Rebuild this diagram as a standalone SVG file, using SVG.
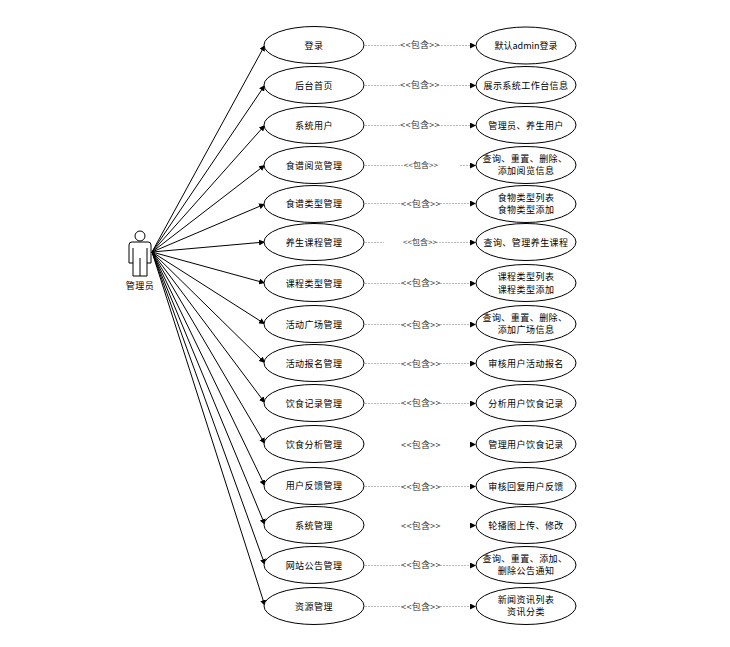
<svg xmlns="http://www.w3.org/2000/svg" width="730" height="647" viewBox="0 0 730 647">
<style>
text{font-family:"Noto Sans CJK SC","Liberation Sans",sans-serif;font-size:9px;fill:#000;text-anchor:middle;letter-spacing:.45px}
.lb{fill:#333;letter-spacing:.3px}
.sm{font-size:8px;letter-spacing:0}
ellipse{fill:#fff;stroke:#000;stroke-width:1}
.as line{stroke:#000;stroke-width:1;marker-end:url(#a)}
.inc line{stroke:#bbb;stroke-width:1;stroke-dasharray:2 1}
.inc line.h{marker-end:url(#b)}
</style>
<defs>
<marker id="a" markerUnits="userSpaceOnUse" markerWidth="6" markerHeight="6" refX="6" refY="3" orient="auto"><path d="M0 0L6 3L0 6z" fill="#000"/></marker>
<marker id="b" markerUnits="userSpaceOnUse" markerWidth="6" markerHeight="6" refX="6" refY="3" orient="auto"><path d="M0 0L6 3L0 6z" fill="#000" stroke="none"/></marker>
</defs>
<g id="connectors">
<g class="as">
<line x1="152" y1="252" x2="265" y2="45"/><line x1="152" y1="252" x2="265" y2="85"/><line x1="152" y1="252" x2="265" y2="125"/><line x1="152" y1="252" x2="265" y2="165"/><line x1="152" y1="252" x2="265" y2="204"/><line x1="152" y1="252" x2="265" y2="242"/><line x1="152" y1="252" x2="265" y2="283"/><line x1="152" y1="252" x2="265" y2="324"/><line x1="152" y1="252" x2="265" y2="363"/><line x1="152" y1="252" x2="265" y2="403"/><line x1="152" y1="252" x2="265" y2="444"/><line x1="152" y1="252" x2="265" y2="486"/><line x1="152" y1="252" x2="265" y2="525"/><line x1="152" y1="252" x2="265" y2="565"/><line x1="152" y1="252" x2="265" y2="606"/>
</g>
<g class="inc" transform="translate(0,.5)">
<line x1="365" y1="45" x2="402" y2="45"/><line class="h" x1="438" y1="45" x2="476" y2="45"/>
<line x1="365" y1="85" x2="402" y2="85"/><line class="h" x1="441" y1="85" x2="476" y2="85"/>
<line x1="365" y1="125" x2="402" y2="125"/><line class="h" x1="438" y1="125" x2="476" y2="125"/>
<line x1="365" y1="165" x2="405" y2="165"/><line class="h" x1="460" y1="165" x2="476" y2="165"/>
<line x1="365" y1="203" x2="402" y2="203"/><line class="h" x1="440" y1="203" x2="476" y2="203"/>
<line x1="365" y1="242" x2="384" y2="242"/><line class="h" x1="436" y1="242" x2="476" y2="242"/>
<line x1="365" y1="283" x2="402" y2="283"/><line class="h" x1="440" y1="283" x2="476" y2="283"/>
<line x1="365" y1="324" x2="402" y2="324"/><line class="h" x1="440" y1="324" x2="476" y2="324"/>
<line x1="365" y1="363" x2="402" y2="363"/><line class="h" x1="440" y1="363" x2="476" y2="363"/>
<line x1="365" y1="403" x2="402" y2="403"/><line class="h" x1="440" y1="403" x2="476" y2="403"/>
<line class="h" x1="470" y1="444" x2="476" y2="444"/>
<line x1="365" y1="486" x2="403" y2="486"/><line class="h" x1="440" y1="486" x2="476" y2="486"/>
<line class="h" x1="470" y1="525" x2="476" y2="525"/>
<line x1="365" y1="565" x2="402" y2="565"/><line class="h" x1="440" y1="565" x2="476" y2="565"/>
<line x1="365" y1="606" x2="402" y2="606"/><line class="h" x1="440" y1="606" x2="476" y2="606"/>
</g>
<g>
<text class="lb" x="420" y="48">&lt;&lt;包含&gt;&gt;</text>
<text class="lb" x="420" y="88">&lt;&lt;包含&gt;&gt;</text>
<text class="lb" x="420" y="128">&lt;&lt;包含&gt;&gt;</text>
<text class="lb sm" x="421" y="168">&lt;&lt;包含&gt;&gt;</text>
<text class="lb" x="421" y="207">&lt;&lt;包含&gt;&gt;</text>
<text class="lb sm" x="420" y="245">&lt;&lt;包含&gt;&gt;</text>
<text class="lb" x="421" y="286">&lt;&lt;包含&gt;&gt;</text>
<text class="lb" x="421" y="328">&lt;&lt;包含&gt;&gt;</text>
<text class="lb" x="421" y="367">&lt;&lt;包含&gt;&gt;</text>
<text class="lb" x="421" y="406">&lt;&lt;包含&gt;&gt;</text>
<text class="lb" x="421" y="448">&lt;&lt;包含&gt;&gt;</text>
<text class="lb" x="421" y="490">&lt;&lt;包含&gt;&gt;</text>
<text class="lb" x="421" y="529">&lt;&lt;包含&gt;&gt;</text>
<text class="lb" x="421" y="568">&lt;&lt;包含&gt;&gt;</text>
<text class="lb" x="421" y="610">&lt;&lt;包含&gt;&gt;</text>
</g>
</g>
<g id="actor">
<circle cx="140" cy="236" r="5" fill="#fff" stroke="#000"/>
<path d="M129 263V245Q129 242 132 242H148Q151 242 151 245V263H147V276H133V263ZM133 263V248M147 263V248M140 276V258" fill="#fff" stroke="#000"/>
<text x="140" y="289">管理员</text>
</g>
<g id="u1"><ellipse cx="314" cy="45" rx="50" ry="18.5"/><text x="314" y="48.500">登录</text></g>
<g id="u2"><ellipse cx="314" cy="85" rx="50" ry="18.5"/><text x="314" y="88.500">后台首页</text></g>
<g id="u3"><ellipse cx="314" cy="125" rx="50" ry="18.5"/><text x="314" y="128.500">系统用户</text></g>
<g id="u4"><ellipse cx="314" cy="165" rx="50" ry="18.5"/><text x="314" y="168.500">食谱阅览管理</text></g>
<g id="u5"><ellipse cx="314" cy="204" rx="50" ry="18.5"/><text x="314" y="207">食谱类型管理</text></g>
<g id="u6"><ellipse cx="314" cy="242" rx="50" ry="18.5"/><text x="314" y="245.500">养生课程管理</text></g>
<g id="u7"><ellipse cx="314" cy="283" rx="50" ry="18.5"/><text x="314" y="286.500">课程类型管理</text></g>
<g id="u8"><ellipse cx="314" cy="324" rx="50" ry="18.5"/><text x="314" y="327.500">活动广场管理</text></g>
<g id="u9"><ellipse cx="314" cy="363" rx="50" ry="18.5"/><text x="314" y="367">活动报名管理</text></g>
<g id="u10"><ellipse cx="314" cy="403" rx="50" ry="18.5"/><text x="314" y="407">饮食记录管理</text></g>
<g id="u11"><ellipse cx="314" cy="444" rx="50" ry="18.5"/><text x="314" y="448">饮食分析管理</text></g>
<g id="u12"><ellipse cx="314" cy="486" rx="50" ry="18.5"/><text x="314" y="489">用户反馈管理</text></g>
<g id="u13"><ellipse cx="314" cy="525" rx="50" ry="18.5"/><text x="314" y="529">系统管理</text></g>
<g id="u14"><ellipse cx="314" cy="565" rx="50" ry="18.5"/><text x="314" y="569">网站公告管理</text></g>
<g id="u15"><ellipse cx="314" cy="606" rx="50" ry="18.5"/><text x="314" y="610">资源管理</text></g>
<g id="r1"><ellipse cx="526" cy="45.500" rx="50" ry="18.5"/><text x="526" y="49" style="letter-spacing:0">默认admin登录</text></g>
<g id="r2"><ellipse cx="526" cy="85" rx="50" ry="18.5"/><text x="526" y="89">展示系统工作台信息</text></g>
<g id="r3"><ellipse cx="526" cy="125" rx="50" ry="18.5"/><text x="526" y="129">管理员、养生用户</text></g>
<g id="r4"><ellipse cx="526" cy="165" rx="50" ry="18.5"/><text x="525" y="162">查询、重置、删除、</text><text x="526" y="174">添加阅览信息</text></g>
<g id="r5"><ellipse cx="526" cy="204" rx="50" ry="18.5"/><text x="526" y="201">食物类型列表</text><text x="526" y="213">食物类型添加</text></g>
<g id="r6"><ellipse cx="526" cy="242" rx="50" ry="18.5"/><text x="526" y="245.500">查询、管理养生课程</text></g>
<g id="r7"><ellipse cx="526" cy="283" rx="50" ry="18.5"/><text x="526" y="280">课程类型列表</text><text x="526" y="293">课程类型添加</text></g>
<g id="r8"><ellipse cx="526" cy="324" rx="50" ry="18.5"/><text x="525" y="321">查询、重置、删除、</text><text x="526" y="333">添加广场信息</text></g>
<g id="r9"><ellipse cx="526" cy="363" rx="50" ry="18.5"/><text x="526" y="367">审核用户活动报名</text></g>
<g id="r10"><ellipse cx="526" cy="403" rx="50" ry="18.5"/><text x="526" y="407">分析用户饮食记录</text></g>
<g id="r11"><ellipse cx="526" cy="444" rx="50" ry="18.5"/><text x="526" y="448">管理用户饮食记录</text></g>
<g id="r12"><ellipse cx="526" cy="486" rx="50" ry="18.5"/><text x="526" y="490">审核回复用户反馈</text></g>
<g id="r13"><ellipse cx="526" cy="525" rx="50" ry="18.5"/><text x="526" y="529">轮播图上传、修改</text></g>
<g id="r14"><ellipse cx="526" cy="565" rx="50" ry="18.5"/><text x="525" y="562">查询、重置、添加、</text><text x="526" y="574">删除公告通知</text></g>
<g id="r15"><ellipse cx="526" cy="606" rx="50" ry="18.5"/><text x="526" y="603">新闻资讯列表</text><text x="526" y="615">资讯分类</text></g>
</svg>
